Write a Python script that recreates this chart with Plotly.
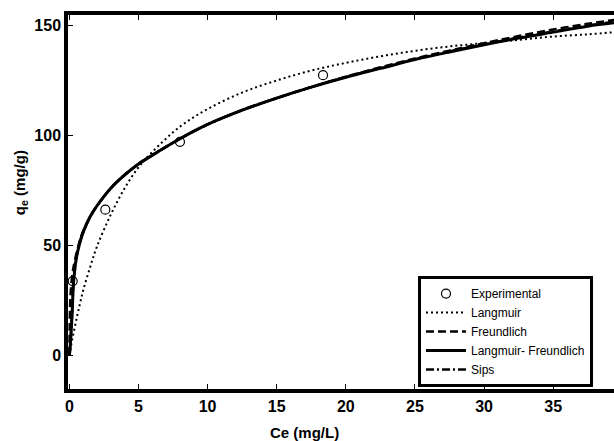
import plotly.graph_objects as go

# experimental points
ce_exp = [0.24, 2.6, 8.0, 18.35]
q_exp = [33.7, 66.2, 97.1, 127.4]

# fitted curves, values on a common Ce grid
ce_fit = [0, 0.05, 0.1, 0.2, 0.3, 0.5, 0.75, 1, 1.5, 2, 3, 4, 5, 6, 8, 10,
          12.5, 15, 17.5, 20, 22.5, 25, 27.5, 30, 32.5, 35, 37.5, 39.5]
q_langmuir = [0, 1.8, 3.5, 7, 10, 16, 23, 29.5, 40, 49.5, 64, 76, 85.5, 92.5, 104, 112,
              119.5, 125, 129.5, 133, 136, 138.5, 140.5, 142, 143.5, 145, 146, 147]
q_freundlich = [0, 22, 29, 36, 40, 46, 52, 56.5, 63, 68, 76, 82, 87, 91, 98.5, 105,
                111.5, 117, 122, 126.7, 131, 135, 138.6, 142, 145.2, 148.2, 150.8, 152.6]
q_lang_freund = [0, 3, 8, 19, 33, 44, 51, 56, 63, 68, 76, 82, 87, 91, 98.5, 105,
                 111.5, 117, 122, 126.5, 130.5, 134.5, 138, 141.3, 144.3, 147, 149.7, 151.3]
q_sips = [0, 3, 8, 19, 33, 44, 51, 56, 63, 68, 76, 82, 87, 91, 98.5, 105,
          111.5, 117, 122, 126.6, 130.7, 134.7, 138.2, 141.5, 144.5, 147.3, 150, 151.8]

x_ticks = [0, 5, 10, 15, 20, 25, 30, 35]
y_ticks = [0, 50, 100, 150]

FONT = "Arial, Liberation Sans, sans-serif"

fig = go.Figure()
fig.add_trace(go.Scatter(x=ce_exp, y=q_exp, mode="markers", name="Experimental",
                         marker=dict(symbol="circle-open", size=9, color="black",
                                     line=dict(width=1.2, color="black"))))
fig.add_trace(go.Scatter(x=ce_fit, y=q_langmuir, mode="lines", name="Langmuir",
                         line=dict(color="black", width=2, dash="2px,3px", shape="spline")))
fig.add_trace(go.Scatter(x=ce_fit, y=q_freundlich, mode="lines", name="Freundlich",
                         line=dict(color="black", width=2.5, dash="8px,4px", shape="spline")))
fig.add_trace(go.Scatter(x=ce_fit, y=q_lang_freund, mode="lines", name="Langmuir- Freundlich",
                         line=dict(color="black", width=3, shape="spline")))
fig.add_trace(go.Scatter(x=ce_fit, y=q_sips, mode="lines", name="Sips",
                         line=dict(color="black", width=2.5, dash="8px,3px,2px,3px", shape="spline")))

fig.update_layout(
    width=614, height=441,
    margin=dict(l=68, r=0, t=15, b=52),
    plot_bgcolor="white", paper_bgcolor="white",
    font=dict(family=FONT, color="black"),
    showlegend=True,
    legend=dict(x=0.641, y=0.302, xanchor="left", yanchor="top",
                bgcolor="white", bordercolor="black", borderwidth=3,
                font=dict(size=12, family=FONT), itemwidth=40,
                tracegroupgap=0),
    xaxis=dict(range=[-0.1, 39.4], tickvals=x_ticks, ticks="inside", ticklen=5,
               tickcolor="black", showline=True, linecolor="black", linewidth=3.5,
               mirror="ticks", showgrid=False, zeroline=False,
               tickfont=dict(size=16, family=FONT, weight="bold")),
    yaxis=dict(range=[-15.4, 154.8], tickvals=y_ticks, ticks="inside", ticklen=5,
               tickcolor="black", showline=True, linecolor="black", linewidth=3.5,
               showgrid=False, zeroline=False,
               tickfont=dict(size=16, family=FONT, weight="bold")),
)

fig.add_annotation(text="<b>Ce (mg/L)</b>", xref="paper", yref="paper",
                   x=0.434, y=-0.1175, showarrow=False, font=dict(size=15),
                   xanchor="center", yanchor="middle")
fig.add_annotation(text="<b>q<sub>e</sub> (mg/g)</b>", xref="paper", yref="paper",
                   x=-0.088, y=0.553, showarrow=False, font=dict(size=15),
                   textangle=-90, xanchor="center", yanchor="middle")

# drop the browser's default 8px body margin so the figure fills the window
fig.write_html("out.html", config={"displayModeBar": False},
               post_script="document.body.style.margin='0';")
